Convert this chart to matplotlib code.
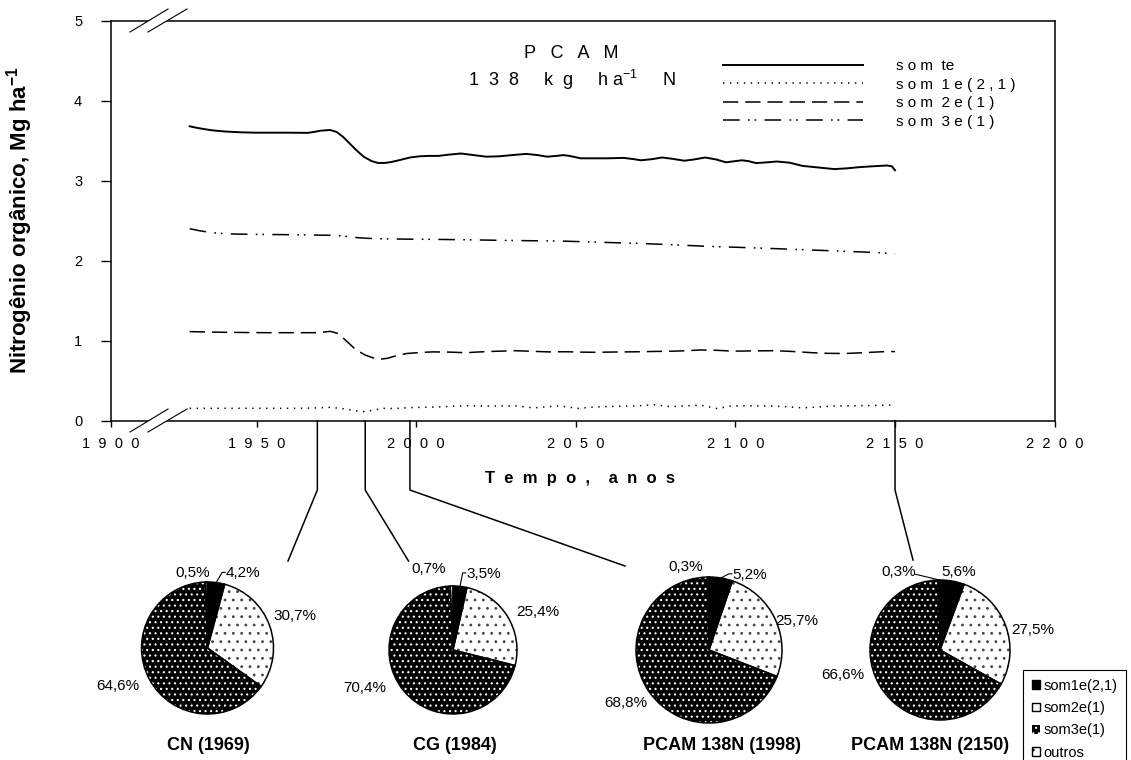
import numpy as np
import matplotlib
matplotlib.use('Agg')
import matplotlib.pyplot as plt
from matplotlib.lines import Line2D
from matplotlib.patches import Patch, Polygon

# N orgânico (Mg ha-1) ao longo do tempo
anos_te = [1929, 1932, 1936, 1940, 1945, 1950, 1955, 1960, 1966, 1968, 1970, 1973, 1975, 1977,
           1979, 1981, 1983.5, 1986, 1988, 1990, 1992, 1995, 1998, 2001, 2004, 2007, 2010, 2014,
           2018, 2022, 2026, 2030, 2034.5, 2038, 2041, 2044, 2046, 2048, 2051.5, 2055, 2060, 2065,
           2068, 2070.5, 2074, 2077, 2080, 2084, 2087, 2090.5, 2094, 2097, 2100, 2102, 2104,
           2106.5, 2110, 2113, 2117, 2121, 2126, 2131, 2135, 2139, 2143, 2147.5, 2149, 2150]
som_te = [3.68, 3.655, 3.63, 3.615, 3.605, 3.60, 3.60, 3.60, 3.598, 3.61, 3.625, 3.634, 3.61, 3.55,
          3.47, 3.39, 3.30, 3.245, 3.222, 3.222, 3.232, 3.26, 3.29, 3.305, 3.31, 3.31, 3.325, 3.34,
          3.32, 3.30, 3.305, 3.32, 3.335, 3.32, 3.30, 3.31, 3.32, 3.31, 3.28, 3.28, 3.28, 3.285,
          3.27, 3.255, 3.27, 3.29, 3.275, 3.25, 3.265, 3.29, 3.265, 3.23, 3.245, 3.255, 3.245,
          3.22, 3.23, 3.24, 3.225, 3.185, 3.165, 3.145, 3.155, 3.17, 3.18, 3.19, 3.18, 3.13]

anos_s1 = [1929, 1945, 1963.5, 1969, 1973, 1977, 1980, 1983.3, 1986.5, 1989.6, 1993, 1999, 2005.3,
           2010, 2015.7, 2022, 2027, 2031.4, 2034, 2037, 2041, 2044.7, 2048, 2050, 2054, 2058, 2063,
           2069, 2074.3, 2079.6, 2084, 2089.1, 2092, 2094.4, 2098.6, 2104, 2110, 2116, 2121, 2126,
           2131.6, 2137, 2143, 2148.5, 2150]
som1e = [0.155, 0.155, 0.155, 0.16, 0.167, 0.15, 0.13, 0.113, 0.13, 0.155, 0.152, 0.165, 0.17,
         0.178, 0.188, 0.183, 0.185, 0.185, 0.172, 0.16, 0.175, 0.185, 0.17, 0.152, 0.165, 0.175, 0.18,
         0.185, 0.20, 0.176, 0.185, 0.194, 0.17, 0.151, 0.185, 0.186, 0.185, 0.175, 0.16, 0.172,
         0.185, 0.186, 0.19, 0.194, 0.195]

anos_s2 = [1929, 1940, 1953, 1968.5, 1971, 1973, 1975.5, 1978, 1981, 1984, 1986.5, 1988.5, 1991,
           1993.5, 1997, 2001, 2005, 2010, 2015.5, 2020, 2025, 2031, 2036, 2041.5, 2047, 2052, 2056,
           2061, 2065.5, 2070, 2075, 2079.5, 2085, 2089, 2094, 2098, 2101.5, 2106, 2112.5, 2118,
           2124, 2129, 2134.5, 2140, 2145, 2148, 2150]
som2e = [1.113, 1.105, 1.10, 1.10, 1.108, 1.117, 1.09, 1.00, 0.89, 0.82, 0.785, 0.768, 0.78,
         0.81, 0.84, 0.852, 0.86, 0.858, 0.85, 0.86, 0.868, 0.875, 0.868, 0.86, 0.862, 0.857, 0.855,
         0.858, 0.86, 0.862, 0.866, 0.868, 0.875, 0.884, 0.88, 0.872, 0.87, 0.873, 0.875, 0.865,
         0.85, 0.842, 0.84, 0.85, 0.86, 0.866, 0.863]

anos_s3 = [1929, 1932, 1936, 1941, 1948, 1955, 1965, 1974, 1978, 1981, 1984.5, 1990, 2000, 2005,
           2015, 2026, 2035, 2045, 2058, 2069, 2080, 2091, 2101, 2113, 2124, 2135, 2145, 2150]
som3e = [2.40, 2.375, 2.35, 2.335, 2.33, 2.327, 2.323, 2.317, 2.305, 2.29, 2.28, 2.273, 2.268,
         2.267, 2.262, 2.255, 2.25, 2.246, 2.23, 2.217, 2.20, 2.18, 2.167, 2.15, 2.133, 2.117,
         2.10, 2.085]

anos_eixo = [1900, 1950, 2000, 2050, 2100, 2150, 2200]
niveis_y = [0, 1, 2, 3, 4, 5]
nomes_linhas = ['s o m  te', 's o m  1 e ( 2 , 1 )', 's o m  2 e ( 1 )', 's o m  3 e ( 1 )']

# pizzas (%)
pie_titulos = ['CN (1969)', 'CG (1984)', 'PCAM 138N (1998)', 'PCAM 138N (2150)']
pie_anos = [1969, 1984, 1998, 2150]
pct_som1e = [4.2, 3.5, 5.2, 5.6]
pct_som2e = [30.7, 25.4, 25.7, 27.5]
pct_som3e = [64.6, 70.4, 68.8, 66.6]
pct_outros = [0.5, 0.7, 0.3, 0.3]
nomes_pie = ['som1e(2,1)', 'som2e(1)', 'som3e(1)', 'outros']

W, H = 1131, 760


def fig_xy(x, y):
    return x / W, 1 - y / H


def espacado(txt, n=2):
    return (' ' * n).join(txt)


plt.rcParams['font.family'] = ['Liberation Sans', 'DejaVu Sans']
plt.rcParams['mathtext.fontset'] = 'custom'
plt.rcParams['mathtext.rm'] = 'Liberation Sans'
plt.rcParams['mathtext.bf'] = 'Liberation Sans:bold'
plt.rcParams['mathtext.default'] = 'regular'
plt.rcParams['lines.scale_dashes'] = False
plt.rcParams['hatch.linewidth'] = 0.8

fig = plt.figure(figsize=(W / 100, H / 100), dpi=100)

# eixo principal
x0, x1, y0, y1 = 110.7, 1054.6, 20.7, 420.7
ax = fig.add_axes([x0 / W, 1 - y1 / H, (x1 - x0) / W, (y1 - y0) / H])
inicio = 1904.25  # o eixo é quebrado: 1900 fica na origem
ax.set_xlim(inicio, 2200)
ax.set_ylim(0, 5)

l_te, = ax.plot(anos_te, som_te, color='black', lw=1.4, solid_joinstyle='round')
l_s1, = ax.plot(anos_s1, som1e, color='black', lw=1.1, linestyle=(0, (1.0, 4.0)))
l_s2, = ax.plot(anos_s2, som2e, color='black', lw=1.1, linestyle=(0, (11, 5)))
l_s3, = ax.plot(anos_s3, som3e, color='black', lw=1.1, linestyle=(0, (12, 6, 1.2, 3.5, 1.2, 6)))

ax.set_xticks([inicio] + anos_eixo[1:])
ax.set_xticklabels([espacado(str(a)) for a in anos_eixo])
ax.set_yticks(niveis_y)
ax.set_yticklabels([str(v) for v in niveis_y])
ax.tick_params(axis='x', direction='out', length=4, width=1, pad=8, labelsize=10.5)
ax.tick_params(axis='y', direction='out', length=7.5, width=1, pad=13, labelsize=10.5)
for s in ax.spines.values():
    s.set_linewidth(1.1)

ax.set_xlabel('    '.join(espacado(p) for p in 'Tempo, anos'.split()),
              fontsize=12, fontweight='bold')
ax.xaxis.set_label_coords((580 - x0) / (x1 - x0), -(478 - y1) / (y1 - y0))
ax.xaxis.label.set_verticalalignment('center')
ax.set_ylabel('Nitrogênio orgânico, Mg ha$^{-1}$', fontsize=16, fontweight='bold')
ax.yaxis.set_label_coords((20 - x0) / (x1 - x0), 0.5)
ax.yaxis.label.set_verticalalignment('center')

fig.text(*fig_xy(571, 53), espacado('PCAM', 3), ha='center', va='center', fontsize=13)
fig.text(*fig_xy(572, 80), '1  3  8     k  g     h a$^{-1}$     N',
         ha='center', va='center', fontsize=13)

ax.legend([l_te, l_s1, l_s2, l_s3], nomes_linhas, loc='upper left',
          bbox_to_anchor=fig_xy(723, 59), bbox_transform=fig.transFigure,
          frameon=False, fontsize=11, handlelength=9.15, handletextpad=2.2,
          borderpad=0, borderaxespad=0, labelspacing=0.3)

# marcas de quebra do eixo
for yb in (y0, y1):
    fig.add_artist(Polygon([fig_xy(130, yb + 11.3), fig_xy(168, yb - 11.7),
                            fig_xy(187, yb - 11.7), fig_xy(148, yb + 11.3)],
                           closed=True, transform=fig.transFigure,
                           facecolor='white', edgecolor='none'))
    for xa, xb in ((130, 168), (148, 187)):
        pa, pb = fig_xy(xa, yb + 11.3), fig_xy(xb, yb - 11.7)
        fig.add_artist(Line2D([pa[0], pb[0]], [pa[1], pb[1]], transform=fig.transFigure,
                              color='black', lw=0.8))

# pizzas
centros = [(207.5, 648, 66), (453, 650, 64), (709, 650, 73), (940, 650, 70)]
pos_rotulos = [
    [(0.54, 1.13), (1.33, 0.49), (-1.36, -0.58), (-0.22, 1.14)],
    [(0.48, 1.19), (1.33, 0.59), (-1.375, -0.59), (-0.375, 1.27)],
    [(0.56, 1.03), (1.20, 0.40), (-1.14, -0.73), (-0.32, 1.14)],
    [(0.26, 1.11), (1.33, 0.29), (-1.39, -0.36), (-0.59, 1.11)],
]
pontas = [(288, 561), (408.5, 561), (625, 566), (913, 560)]
pos_titulos = [(208, 745), (455, 745), (722, 745), (930, 745)]

faces = ['black', 'white', 'black', 'white']
cores_hachura = ['black', '#444444', 'white', 'black']
hachuras = [None, '..', '...', '..']

fig.canvas.draw()
for i in range(4):
    valores = [pct_som1e[i], pct_som2e[i], pct_som3e[i], pct_outros[i]]
    cx, cy, r = centros[i]
    pax = fig.add_axes([(cx - r) / W, 1 - (cy + r) / H, 2 * r / W, 2 * r / H])
    fatias, _ = pax.pie(valores, startangle=90, counterclock=False)
    for w, fc, hc, h in zip(fatias, faces, cores_hachura, hachuras):
        w.set_facecolor(fc)
        w.set_edgecolor(hc)
        w.set_hatch(h)
        w.set_linewidth(0)
    pax.pie(valores, startangle=90, counterclock=False,
            wedgeprops=dict(fill=False, edgecolor='black', linewidth=1.1))
    pax.set_xlim(-1, 1)
    pax.set_ylim(-1, 1)
    pax.set_aspect('equal')
    pax.axis('off')

    acum = np.cumsum([0] + valores) / 100.0
    for k, v in enumerate(valores):
        lx, ly = pos_rotulos[i][k]
        txt = f'{v:.1f}%'.replace('.', ',')
        pax.text(lx, ly, txt, ha='center', va='center', fontsize=11)
    # linhas de chamada
    if i < 3:
        lx, ly = pos_rotulos[i][0]
        th = 2 * np.pi * (acum[0] + acum[1]) / 2
        xl = lx - 18 / r
        pax.plot([xl, xl - 3 / r, np.sin(th)], [ly + 1 / r, ly + 1 / r, np.cos(th)],
                 color='black', lw=0.8, clip_on=False)
    else:
        lx, ly = pos_rotulos[i][3]
        th = 2 * np.pi * (acum[3] + acum[4]) / 2
        pax.plot([lx + 17 / r, np.sin(th)], [ly - 2 / r, np.cos(th)],
                 color='black', lw=0.8, clip_on=False)

    fig.text(*fig_xy(*pos_titulos[i]), pie_titulos[i], ha='center', va='center',
             fontsize=13, fontweight='bold')

    # ligação do ano no eixo até a pizza
    xd = ax.transData.transform((pie_anos[i], 0))[0]
    ex, ey = pontas[i]
    fig.add_artist(Line2D([xd / W, xd / W, ex / W], [1 - y1 / H, 1 - 490 / H, 1 - ey / H],
                          transform=fig.transFigure, color='black', lw=1.1))

alças = [Patch(facecolor='black', edgecolor='black'),
         Patch(facecolor='white', edgecolor='black'),
         Patch(facecolor='black', edgecolor='white', hatch='...', linewidth=0),
         Patch(facecolor='white', edgecolor='black', hatch='..')]
leg = fig.legend(alças, nomes_pie, loc='upper left', bbox_to_anchor=fig_xy(1023, 670),
                 fontsize=10.5, frameon=True, fancybox=False, edgecolor='black',
                 framealpha=1, handlelength=0.55, handleheight=0.55, handletextpad=0.25,
                 labelspacing=0.57, borderpad=0.6, borderaxespad=0)
leg.get_frame().set_linewidth(0.8)

fig.savefig('out.png', dpi=100)
